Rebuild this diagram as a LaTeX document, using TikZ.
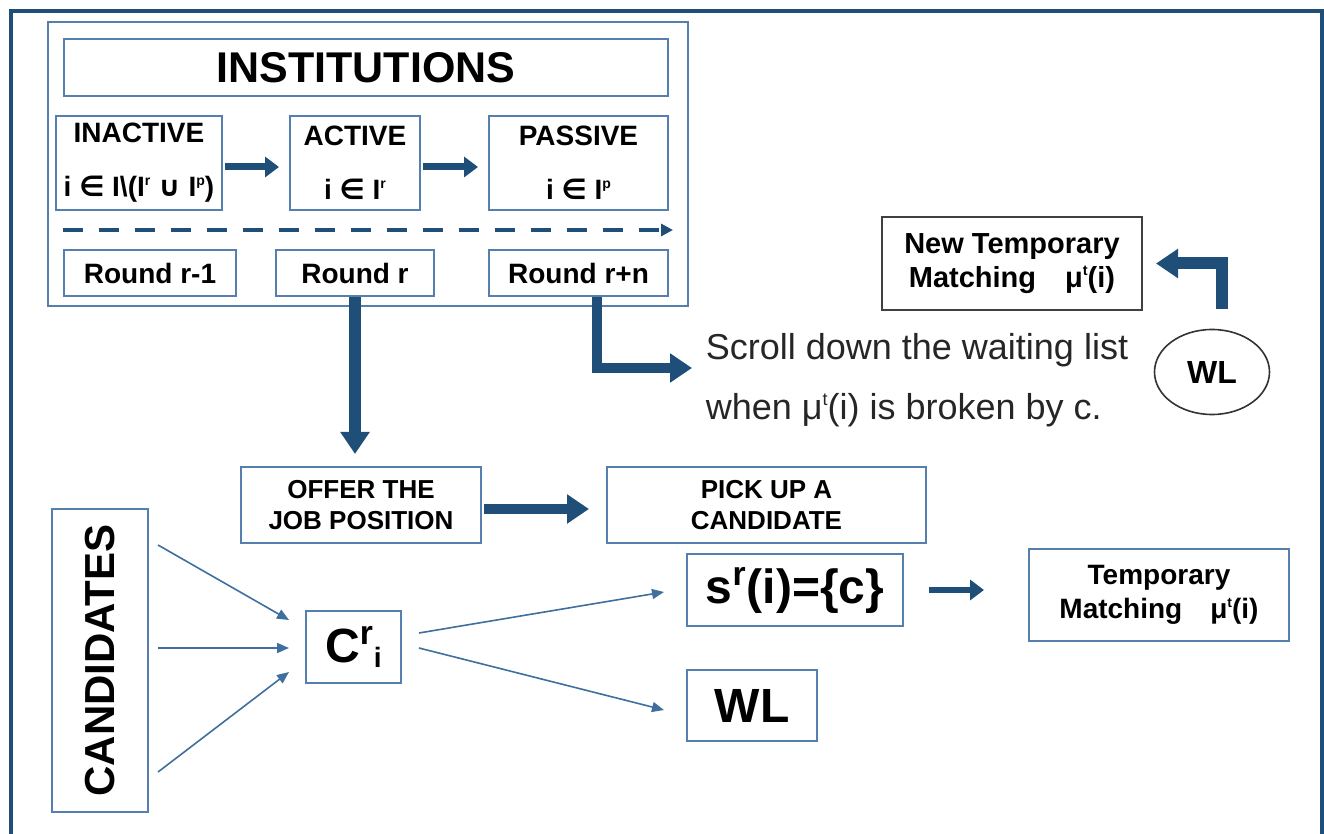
\documentclass[tikz,border=0pt]{standalone}
\usepackage{fontspec}
\setmainfont{Liberation Sans}
\newfontfamily\symf{DejaVu Sans}
\usetikzlibrary{arrows.meta,shapes.geometric,calc}

\definecolor{arrowblue}{HTML}{1F4E79}
\definecolor{boxblue}{HTML}{5580AD}
\definecolor{feedblue}{HTML}{3E6F9E}
\definecolor{textgray}{HTML}{262626}
\newcommand{\fsz}[2]{\fontsize{#1}{#2}\selectfont}
\newcommand{\supt}[1]{\raisebox{0.75ex}{\fontsize{0.5em}{0.5em}\selectfont #1}}

\begin{document}
\begin{tikzpicture}[x=0.5pt, y=-0.5pt,
    box/.style={draw=boxblue, line width=1pt, fill=white, inner sep=0pt, align=center, text=black, font=\bfseries\fsz{14}{17}},
    shortarrow/.style={draw=arrowblue, line width=3.5pt, -{Triangle[length=7pt,width=10pt]}},
    bigarrow/.style={draw=arrowblue, line width=#1, line join=miter, -{Triangle[length=11pt,width=14pt]}},
    bigarrow/.default=6pt,
    feedarrow/.style={draw=feedblue, line width=0.8pt, -{Triangle[length=6pt,width=5pt]}},
    dasharrow/.style={draw=arrowblue, line width=2pt, dash pattern=on 10pt off 8pt, -{Triangle[length=6pt,width=6pt]}}]

    \useasboundingbox (0,0) rectangle (1324,834);
    \draw[arrowblue, line width=2pt] (11,11) rectangle (1322,850);

    % institutions
    \node[box, minimum width=320pt, minimum height=142pt] (instfr) at (368,164) {};
    \node[box, minimum width=302pt, minimum height=28.5pt, font=\bfseries\fsz{21.5}{24}] (title) at (366,68) {INSTITUTIONS};
    \node[box, minimum width=83pt, minimum height=47pt] (inactive) at (139,163)
        {INACTIVE\\[10pt]i {\symf ∈} I\textbackslash(I\supt{r} {\symf ∪} I\supt{p})};
    \node[box, minimum width=65pt, minimum height=47pt] (active) at (355,163) {ACTIVE\\[10pt]i {\symf ∈} I\supt{r}};
    \node[box, minimum width=89.5pt, minimum height=47pt] (passive) at (578.5,163) {PASSIVE\\[10pt]i {\symf ∈} I\supt{p}};
    \node[box, minimum width=86pt, minimum height=23pt] (rr1) at (150,273) {Round r-1};
    \node[box, minimum width=79pt, minimum height=23pt] (rr) at (355,273) {Round r};
    \node[box, minimum width=89.5pt, minimum height=23pt] (rrn) at (578.5,273) {Round r+n};

    \draw[shortarrow, shorten <=1pt, shorten >=5pt] ([yshift=-2pt]inactive.east) -- ([yshift=-2pt]active.west);
    \draw[shortarrow, shorten <=1pt, shorten >=5pt] ([yshift=-2pt]active.east) -- ([yshift=-2pt]passive.west);
    \draw[dasharrow] ($(inactive.south west)+(8,19)$) -- ($(passive.south east)+(4,19)$);

    % waiting list and new matching
    \node[box, draw=black!75, minimum width=130pt, minimum height=46.5pt, font=\bfseries\fsz{14.5}{17}] (newtm) at (1012,263.5)
        {New Temporary\\Matching\quad μ\supt{t}(i)};
    \node[ellipse, draw=black!80, line width=0.8pt, minimum width=57.5pt, minimum height=42.5pt, inner sep=0pt,
        font=\bfseries\fsz{16}{18}] (wlc) at (1212,372) {WL};
    \node[align=left, inner sep=0pt, text=textgray, font=\fsz{18}{30}] (scroll) at (917,380)
        {Scroll down the waiting list\\when μ\supt{t}(i) is broken by c.};
    \coordinate (scrollin) at (692,368);

    \draw[bigarrow=5pt] ([xshift=9pt]rrn.south) |- (scrollin);
    \draw[bigarrow=6pt, shorten >=6.5pt] ($(wlc.north)+(10,-20)$) |- (newtm.east);

    % job offer
    \node[box, minimum width=120pt, minimum height=38pt, font=\bfseries\fsz{13}{15.5}] (offer) at (361,505) {OFFER THE\\JOB POSITION};
    \node[box, minimum width=159.5pt, minimum height=38pt, font=\bfseries\fsz{13}{15.5}] (pick) at (766.5,505) {PICK UP A\\CANDIDATE};
    \draw[bigarrow=6pt, shorten >=6pt] (rr.south) -- (rr.south |- offer.north);
    \draw[bigarrow=5pt, shorten <=1pt, shorten >=8.5pt] ([yshift=-2pt]offer.east) -- ([yshift=-2pt]pick.west);

    % candidates
    \node[box, minimum width=48pt, minimum height=151.5pt, font=\bfseries\fsz{21}{24}] (cand) at (100,660.5) {\rotatebox{90}{CANDIDATES}};
    \node[box, minimum width=47.5pt, minimum height=36pt, font=\bfseries\fsz{24}{28}] (ci) at (353.5,647)
        {C\textsuperscript{r}\raisebox{-0.2ex}{\fsz{14}{14}i}};
    \node[box, minimum width=108pt, minimum height=36pt, font=\bfseries\fsz{24}{28}] (sri) at (795,590) {s\textsuperscript{r}(i)=\{c\}};
    \node[box, minimum width=65pt, minimum height=35.5pt, font=\bfseries\fsz{24}{28}] (wlb) at (752,705.5) {WL};
    \node[box, minimum width=130pt, minimum height=46pt] (tm) at (1159,595) {Temporary\\Matching\quad μ\supt{t}(i)};

    \foreach \a/\b in {-115.5/-27, -12.5/1, 111.5/25}
        \draw[feedarrow] ($(cand.east)+(9,\a)$) -- ($(ci.west)+(-16,\b)$);
    \draw[feedarrow] ($(ci.east)+(17,-14)$) -- ($(sri.west)+(-22,2)$);
    \draw[feedarrow] ($(ci.east)+(17,1)$) -- ($(wlb.west)+(-22,4.5)$);
    \draw[shortarrow, line width=3pt, shorten <=12.5pt, shorten >=22pt] (sri.east) -- (sri.east -| tm.west);
\end{tikzpicture}
\end{document}
